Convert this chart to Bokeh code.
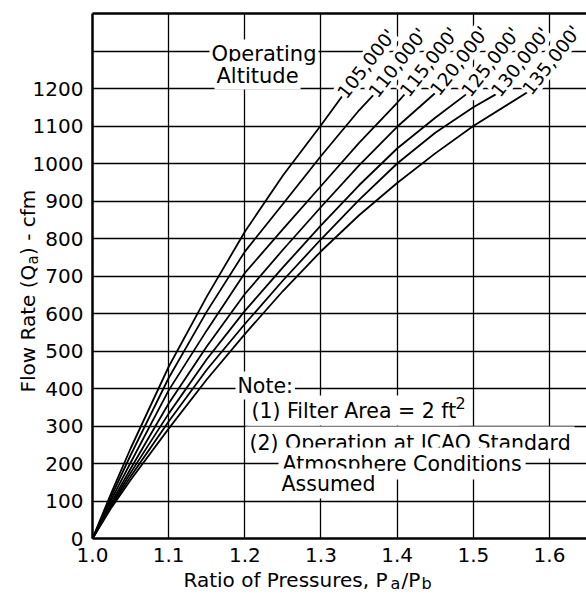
from bokeh.plotting import figure
from bokeh.models import Label, FixedTicker, NumeralTickFormatter, LinearAxis
from bokeh.embed import file_html
from bokeh.resources import INLINE

# ---- data ----
altitudes = ["105,000'", "110,000'", "115,000'", "120,000'", "125,000'", "130,000'", "135,000'"]

ratio_105 = [1.0, 1.025, 1.05, 1.1, 1.15, 1.2, 1.25, 1.3, 1.328]
flow_105 = [0, 123, 240, 458, 645, 818, 968, 1102, 1180]

ratio_110 = [1.0, 1.025, 1.05, 1.1, 1.15, 1.2, 1.25, 1.3, 1.35, 1.369]
flow_110 = [0, 114, 222, 428, 605, 765, 892, 1020, 1142, 1183]

ratio_115 = [1.0, 1.025, 1.05, 1.1, 1.15, 1.2, 1.25, 1.3, 1.35, 1.4, 1.41]
flow_115 = [0, 105, 202, 395, 555, 708, 825, 940, 1055, 1162, 1185]

ratio_120 = [1.0, 1.025, 1.05, 1.1, 1.15, 1.2, 1.25, 1.3, 1.35, 1.4, 1.45]
flow_120 = [0, 97, 186, 360, 512, 652, 770, 884, 995, 1098, 1188]

ratio_125 = [1.0, 1.025, 1.05, 1.1, 1.15, 1.2, 1.25, 1.3, 1.35, 1.4, 1.45, 1.491]
flow_125 = [0, 92, 175, 333, 478, 607, 723, 835, 942, 1040, 1122, 1185]

ratio_130 = [1.0, 1.025, 1.05, 1.1, 1.15, 1.2, 1.25, 1.3, 1.35, 1.4, 1.45, 1.5, 1.53]
flow_130 = [0, 88, 165, 312, 450, 572, 688, 798, 903, 1000, 1082, 1150, 1185]

ratio_135 = [1.0, 1.025, 1.05, 1.1, 1.15, 1.2, 1.25, 1.3, 1.35, 1.4, 1.45, 1.5, 1.571]
flow_135 = [0, 83, 156, 293, 424, 545, 660, 766, 862, 948, 1027, 1100, 1190]

ratios = [ratio_105, ratio_110, ratio_115, ratio_120, ratio_125, ratio_130, ratio_135]
flows = [flow_105, flow_110, flow_115, flow_120, flow_125, flow_130, flow_135]

x_ticks = [1.0, 1.1, 1.2, 1.3, 1.4, 1.5, 1.6]
x_grid = [1.1, 1.2, 1.3, 1.4, 1.5, 1.6]
y_ticks = [0, 100, 200, 300, 400, 500, 600, 700, 800, 900, 1000, 1100, 1200]
y_grid = [100, 200, 300, 400, 500, 600, 700, 800, 900, 1000, 1100, 1200, 1300]

note_lines = ["Note:", "(1) Filter Area = 2 ft", "(2) Operation at ICAO Standard",
              "Atmosphere Conditions", "Assumed"]
title_lines = ["Operating", "Altitude"]

FONT = "DejaVu Sans"
W, H = 586, 595
X0, X1 = 1.0, 1.6486      # plotted region
Y0, Y1 = 0, 1400
X_START, X_END = 0.8792, 1.6486   # whole canvas (room for tick labels / titles)
Y_START, Y_END = -152.0, 1434.7

p = figure(width=W, height=H, x_range=(X_START, X_END), y_range=(Y_START, Y_END),
           output_backend="svg", toolbar_location=None, min_border=0)
p.outline_line_color = None
p.background_fill_color = "white"
p.border_fill_color = "white"

xa = p.xaxis[0]
ya = p.yaxis[0]
xa.fixed_location = Y0
ya.fixed_location = X0
xa.bounds = (X0, X1)
ya.bounds = (Y0, Y1)
xa.ticker = FixedTicker(ticks=x_ticks)
xa.formatter = NumeralTickFormatter(format="0.0")
ya.ticker = FixedTicker(ticks=y_ticks)

top = LinearAxis(fixed_location=Y1, bounds=(X0, X1), ticker=FixedTicker(ticks=[]))
p.add_layout(top, "above")

for ax in (xa, ya, top):
    ax.axis_line_color = "black"
    ax.axis_line_width = 2.5
    ax.major_tick_line_color = None
    ax.minor_tick_line_color = None
    ax.major_tick_in = 0
    ax.major_tick_out = 0
    ax.major_label_text_font = FONT
    ax.major_label_text_font_size = "20px"
    ax.major_label_text_color = "black"
xa.major_label_standoff = 9
ya.major_label_standoff = 9

p.xgrid.ticker = FixedTicker(ticks=x_grid)
p.ygrid.ticker = FixedTicker(ticks=y_grid)
p.xgrid.cross_bounds = (Y0, Y1)
p.ygrid.cross_bounds = (X0, X1)
for g in (p.xgrid[0], p.ygrid[0]):
    g.grid_line_color = "black"
    g.grid_line_width = 1.3

for r, q in zip(ratios, flows):
    p.line(r, q, line_color="black", line_width=1.8)

# altitude labels at the end of each curve
for i in reversed(range(len(altitudes))):
    p.add_layout(Label(x=ratios[i][-1], y=flows[i][-1], text=altitudes[i], angle=52,
                       angle_units="deg", text_align="left", text_baseline="middle",
                       x_offset=-1, text_font=FONT, text_font_size="18.5px",
                       text_color="black", background_fill_color="white"))

def txt(x, y, s, size="20px", angle=0, bg=None, pad=0):
    # x, y: pixels from the canvas' left and bottom edges
    kw = dict(x=x, y=y, x_units="screen", y_units="screen", text=s, angle=angle,
              angle_units="deg", text_align="left", text_baseline="alphabetic",
              text_font=FONT, text_font_size=size, text_color="black")
    if bg:
        kw["background_fill_color"] = bg
        kw["padding"] = pad
    p.add_layout(Label(**kw))

def at(ax, ay):
    return ax, H - ay

# Operating Altitude
txt(*at(209, 53), title_lines[0], size="21px", bg="white", pad=2)
txt(*at(214, 75), title_lines[1], size="21px", bg="white", pad=2)

# Note block
txt(*at(235, 385), note_lines[0], size="20.5px", bg="white", pad=2)
txt(*at(248, 410), note_lines[1], size="20.5px", bg="white", pad=3)
txt(*at(455, 402), "2", size="16px")
txt(*at(245, 442), note_lines[2], size="20.5px", bg="white", pad=4)
txt(*at(278, 463), note_lines[3], size="20.5px", bg="white", pad=4)
txt(*at(278, 483), note_lines[4], size="20.5px", bg="white", pad=3)

# y axis title: Flow Rate (Qa) - cfm
txt(*at(27, 392), "Flow Rate (Q", angle=90)
txt(*at(32, 392 - 128), "a", size="15px", angle=90)
txt(*at(27, 392 - 128 - 9.5), ") - cfm", angle=90)

# x axis title: Ratio of Pressures, Pa/Pb
txt(*at(183, 579), "Ratio of  Pressures, P")
txt(*at(390, 583), "a", size="16px")
txt(*at(401, 579), "/P")
txt(*at(421, 583), "b", size="16px")

open("out.html", "w").write(file_html(p, INLINE))
